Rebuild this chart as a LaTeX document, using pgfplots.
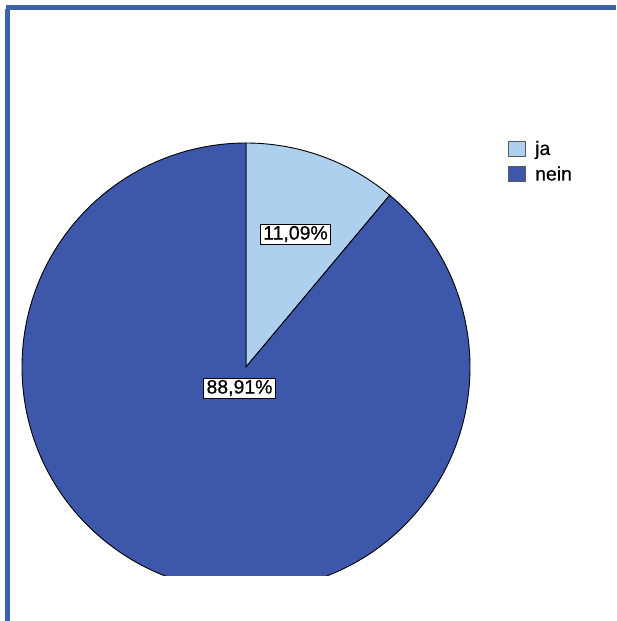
\documentclass[border=0pt]{standalone}
\usepackage{pgfplots}
\usepackage{pgfplotstable}
\pgfplotsset{compat=1.18}
\usepackage{fontspec}
\setmainfont{Liberation Sans}
\newfontfamily\heavy[FakeBold=0.6]{Liberation Sans}
\definecolor{jablue}{RGB}{173,208,238}
\definecolor{neinblue}{RGB}{61,88,171}
\definecolor{frameblue}{RGB}{60,98,168}
\pgfplotstableread{
label value
ja 11.09
nein 88.91
}\piedata
\pgfplotstablegetelem{0}{value}\of\piedata
\let\vja\pgfplotsretval
\pgfplotstablegetelem{1}{value}\of\piedata
\let\vnein\pgfplotsretval
\pgfmathsetmacro{\angja}{90-3.6*\vja}
\pgfmathsetmacro{\angnein}{\angja-3.6*\vnein}
\begin{document}%
\begin{tikzpicture}
\begin{axis}[
  scale only axis, width=617bp, height=621bp,
  xmin=0, xmax=617, ymin=0, ymax=621, y dir=reverse,
  hide axis, clip=true,
  legend style={draw=none, fill=none, font=\heavy\fontsize{19.5}{21}\selectfont,
    at={(axis cs:508,139)}, anchor=north west, row sep=6bp, column sep=7bp,
    inner sep=0bp, outer sep=0bp,
    cells={anchor=west, text height=14bp, text depth=5bp, inner xsep=2bp}},
  legend image code/.code={\draw[#1] (0bp,-7.5bp) rectangle (17bp,7.5bp);},
]
\addlegendimage{fill=jablue, draw=black!65, line width=1.2bp}
\addlegendentry{ja}
\addlegendimage{fill=neinblue, draw=black!65, line width=1.2bp}
\addlegendentry{nein}
\begin{scope}
\clip (axis cs:0,0) rectangle (axis cs:617,575);
\filldraw[fill=jablue, draw=black, line width=0.9bp] (axis cs:246,367) -- ++(90:224bp) arc[start angle=90, end angle=\angja, radius=224bp] -- cycle;
\filldraw[fill=neinblue, draw=black, line width=0.9bp] (axis cs:246,367) -- ++(\angja:224bp) arc[start angle=\angja, end angle=\angnein, radius=224bp] -- cycle;
\end{scope}
\node[draw=black, fill=white, inner xsep=3bp, inner ysep=2bp, line width=0.9bp, font=\heavy\fontsize{19.5}{21}\selectfont] at (axis cs:295.5,234) {11,09\%};
\node[draw=black, fill=white, inner xsep=3bp, inner ysep=2bp, line width=0.9bp, font=\heavy\fontsize{19.5}{21}\selectfont] at (axis cs:239.5,388) {88,91\%};
\fill[frameblue] (axis cs:5,9) rectangle (axis cs:10,621);
\fill[frameblue] (axis cs:6,5) rectangle (axis cs:616,10);
\end{axis}
\end{tikzpicture}%
\end{document}
